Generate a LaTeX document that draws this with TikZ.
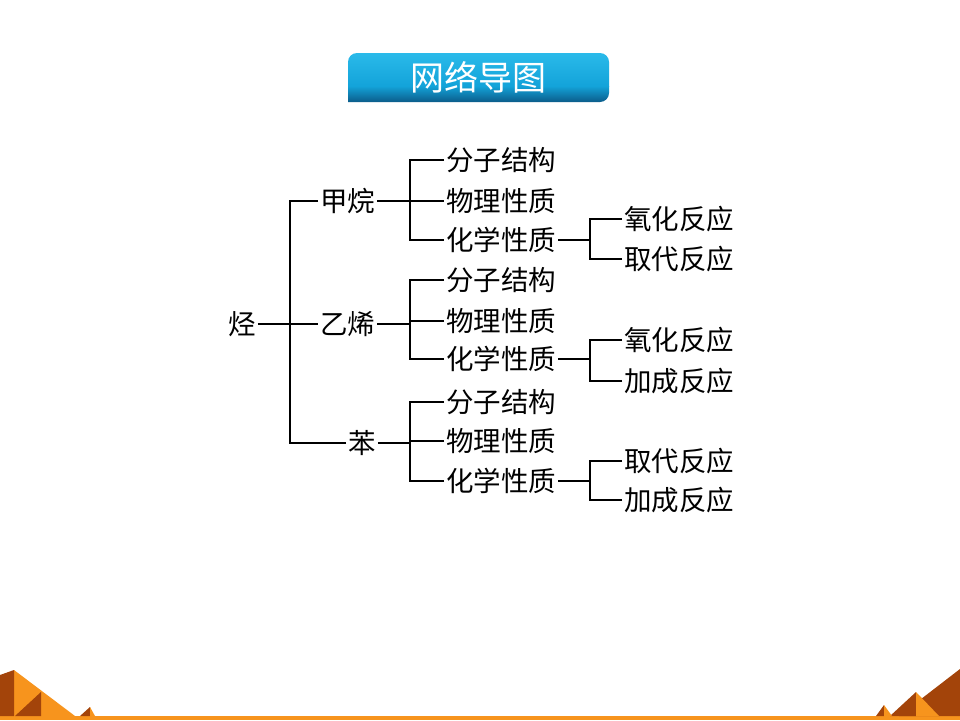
\documentclass[tikz,border=0pt]{standalone}
\usepackage{fontspec}
\newfontfamily\cjk{Noto Sans CJK SC}
\usetikzlibrary{positioning}
\definecolor{orng}{HTML}{F7941D}
\definecolor{brwn}{HTML}{A3440A}
\definecolor{cyanT}{HTML}{2ABAEA}
\definecolor{cyanM}{HTML}{13A3D9}
\definecolor{blueB}{HTML}{0B5A88}
\tikzset{
  lbl/.style={font=\cjk\fontsize{27.5}{31}\selectfont, inner sep=2pt, anchor=west, text=black},
  conn/.style={line width=1.4pt, black},
}
\begin{document}
\begin{tikzpicture}[x=1pt,y=-1pt]
\useasboundingbox (0,0) rectangle (960,720);
\fill[white] (0,0) rectangle (960,720);

% title banner
\begin{scope}
\clip[rounded corners=9pt] (348,102) -- (348,53) -- (609,53) -- (609,102) [sharp corners] -- cycle;
\shade[top color=cyanT, bottom color=cyanM] (348,53) rectangle (609,86);
\shade[top color=cyanM, bottom color=blueB] (348,86) rectangle (609,102.5);
\end{scope}
\node (title) at (478,77) {\cjk\fontsize{34}{38}\selectfont\color{white}网络导图};

% bottom decoration
\fill[orng] (0,716) rectangle (960,720);
\fill[orng] (14,670) -- (75,716) -- (14,716) -- cycle;
\fill[brwn] (0,675) -- (14,670) -- (14,716) -- (0,716) -- cycle;
\fill[brwn] (15,716) -- (41,692) -- (41,716) -- cycle;
\fill[brwn] (80,716) -- (90,707) -- (90,716) -- cycle;
\fill[orng] (90,707) -- (95,716) -- (90,716) -- cycle;
\fill[brwn] (899,716) -- (960,669) -- (960,716) -- cycle;
\fill[brwn] (890,716) -- (916,692) -- (916,716) -- cycle;
\fill[orng] (916,692) -- (939,716) -- (916,716) -- cycle;
\fill[brwn] (876,716) -- (884,705) -- (884,716) -- cycle;
\fill[orng] (884,705) -- (892,716) -- (884,716) -- cycle;

% level 1
\node[lbl] (ting) at (226,324) {烃};
% level 2
\node[lbl] (jw) at (318,201) {甲烷};
\node[lbl] (yx) at (318,324) {乙烯};
\node[lbl] (ben) at (346,443) {苯};
% level 3
\node[lbl] (fz1) at (444,160) {分子结构};
\node[lbl] (wl1) at (444,201) {物理性质};
\node[lbl] (hx1) at (444,240) {化学性质};
\node[lbl] (fz2) at (444,280) {分子结构};
\node[lbl] (wl2) at (444,321) {物理性质};
\node[lbl] (hx2) at (444,359) {化学性质};
\node[lbl] (fz3) at (444,402) {分子结构};
\node[lbl] (wl3) at (444,441) {物理性质};
\node[lbl] (hx3) at (444,481) {化学性质};
% level 4
\node[lbl] (a1) at (622,219) {氧化反应};
\node[lbl] (b1) at (622,259) {取代反应};
\node[lbl] (a2) at (622,340) {氧化反应};
\node[lbl] (b2) at (622,381) {加成反应};
\node[lbl] (a3) at (622,461) {取代反应};
\node[lbl] (b3) at (622,500) {加成反应};

% branch points
\coordinate (r0) at (290,324);
\coordinate (g1) at (410,201);
\coordinate (g2) at (410,321);
\coordinate (g3) at (410,441);
\coordinate (c1) at (590,240);
\coordinate (c2) at (590,359);
\coordinate (c3) at (590,481);

% connectors
\draw[conn] (ting.east) -- (yx.west);
\draw[conn] (jw.west) -| (r0);
\draw[conn] (ben.west) -| (r0);

\draw[conn] (jw.east) -- (wl1.west);
\draw[conn] (fz1.west) -| (g1);
\draw[conn] (hx1.west) -| (g1);
\draw[conn] (yx.east) -- (yx.east -| g2);
\draw[conn] (wl2.west) -- (g2);
\draw[conn] (fz2.west) -| (g2);
\draw[conn] (hx2.west) -| (g2);
\draw[conn] (ben.east) -- (ben.east -| g3);
\draw[conn] (wl3.west) -- (g3);
\draw[conn] (fz3.west) -| (g3);
\draw[conn] (hx3.west) -| (g3);

\draw[conn] (hx1.east) -- (c1);
\draw[conn] (a1.west) -| (c1);
\draw[conn] (b1.west) -| (c1);
\draw[conn] (hx2.east) -- (c2);
\draw[conn] (a2.west) -| (c2);
\draw[conn] (b2.west) -| (c2);
\draw[conn] (hx3.east) -- (c3);
\draw[conn] (a3.west) -| (c3);
\draw[conn] (b3.west) -| (c3);
\end{tikzpicture}
\end{document}
